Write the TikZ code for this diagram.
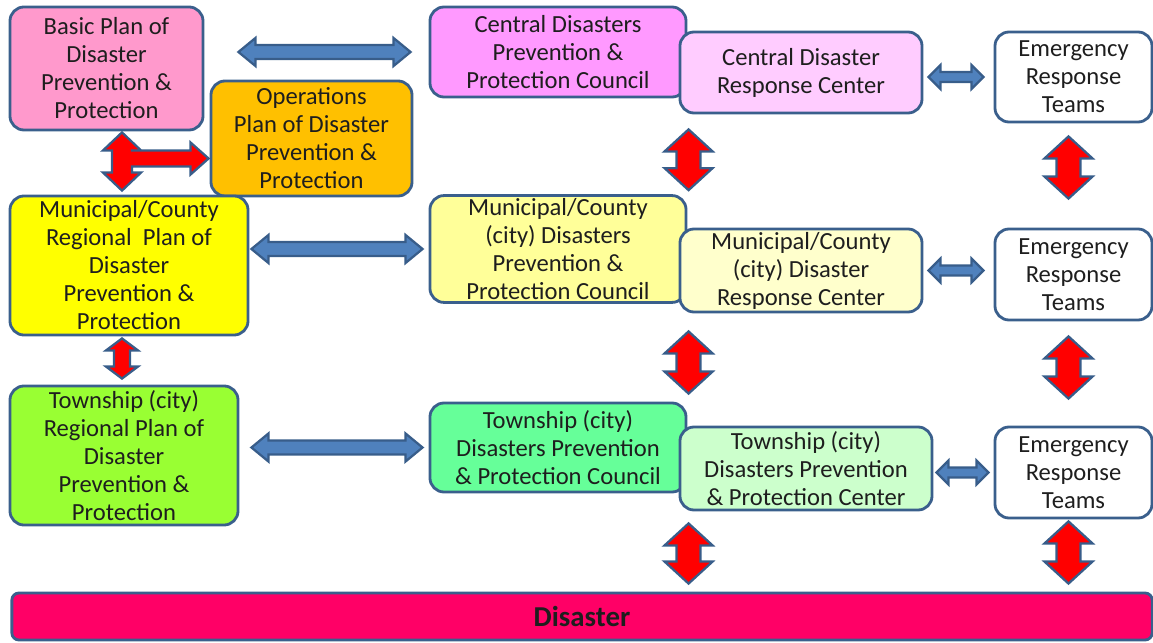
\documentclass[tikz,border=0pt]{standalone}
\usepackage{fontspec}
\setmainfont{Carlito}
\usetikzlibrary{calc}
\definecolor{boxline}{RGB}{58,95,140}
\definecolor{arrline}{RGB}{56,93,138}
\definecolor{arrblue}{RGB}{79,129,189}
\definecolor{textgray}{RGB}{30,30,30}
\definecolor{basicpink}{RGB}{255,153,204}
\definecolor{opsorange}{RGB}{255,192,0}
\definecolor{centralmag}{RGB}{255,153,255}
\definecolor{centrallight}{RGB}{255,204,255}
\definecolor{muniyellow}{RGB}{255,255,0}
\definecolor{munilight}{RGB}{255,255,153}
\definecolor{munipale}{RGB}{255,255,204}
\definecolor{townlime}{RGB}{153,255,51}
\definecolor{townmint}{RGB}{102,255,153}
\definecolor{townpale}{RGB}{204,255,204}
\definecolor{disasterred}{RGB}{255,0,102}
\tikzset{
  box/.style={draw=boxline, line width=2pt, rounded corners=10pt, align=center, inner sep=2pt,
    text=textgray, font=\fontsize{17.5}{19.9}\selectfont},
  bluearr/.style={draw=arrline, fill=arrblue, line width=1.6pt},
  redarr/.style={draw=arrline, fill=red, line width=1.6pt}
}
\newcommand\harrow[6]{%
  \draw[#1] let \p1=(#2), \p2=(#3) in
    (\x1,\y1) -- ++(#6,-#4) -- ++(0,#4-#5) -- ($(\x2,\y1)+(-#6,-#5)$) -- ++(0,#5-#4)
    -- (\x2,\y1) -- ++(-#6,#4) -- ++(0,#5-#4) -- ($(\x1,\y1)+(#6,#5)$) -- ++(0,#4-#5) -- cycle;}
\newcommand\varrow[6]{%
  \draw[#1] let \p1=(#2), \p2=(#3) in
    (\x1,\y1) -- ++(#4,#6) -- ++(#5-#4,0) -- ($(\x1,\y2)+(#5,-#6)$) -- ++(#4-#5,0)
    -- (\x1,\y2) -- ++(-#4,-#6) -- ++(#4-#5,0) -- ($(\x1,\y1)+(-#5,#6)$) -- ++(#5-#4,0) -- cycle;}
\begin{document}
\begin{tikzpicture}[x=0.025cm, y=-0.025cm, line join=miter]
\useasboundingbox (0,0) rectangle (1153,643);

\node[box, fill=basicpink, minimum width=4.825cm, minimum height=3.075cm] (basic) at (106.5,68.5)
  {Basic Plan of\\Disaster\\Prevention \&\\Protection};
\node[box, fill=opsorange, minimum width=5.025cm, minimum height=2.875cm] (ops) at (311.5,138.5)
  {Operations\\Plan of Disaster\\Prevention \&\\Protection};
\node[box, fill=centralmag, minimum width=6.4cm, minimum height=2.25cm] (ccouncil) at (558,52)
  {Central Disasters\\Prevention \&\\Protection Council};
\node[box, fill=centrallight, minimum width=6.05cm, minimum height=2.025cm] (ccenter) at (801,72.5)
  {Central Disaster\\Response Center};
\node[box, fill=white, minimum width=3.925cm, minimum height=2.25cm] (ert1) at (1073.5,77)
  {Emergency\\Response\\Teams};

\node[box, fill=muniyellow, minimum width=5.95cm, minimum height=3.475cm] (mplan) at (129,265.5)
  {Municipal/County\\Regional~ Plan of\\Disaster\\Prevention \&\\Protection};
\node[box, fill=munilight, minimum width=6.4cm, minimum height=2.65cm] (mcouncil) at (558,249)
  {Municipal/County\\(city) Disasters\\Prevention \&\\Protection Council};
\node[box, fill=munipale, minimum width=6.05cm, minimum height=2.075cm] (mcenter) at (801,270.5)
  {Municipal/County\\(city) Disaster\\Response Center};
\node[box, fill=white, minimum width=3.925cm, minimum height=2.275cm] (ert2) at (1073.5,274.5)
  {Emergency\\Response\\Teams};

\node[box, fill=townlime, minimum width=5.7cm, minimum height=3.475cm] (tplan) at (124,455.5)
  {Township (city)\\Regional Plan of\\Disaster\\Prevention \&\\Protection};
\node[box, fill=townmint, minimum width=6.4cm, minimum height=2.225cm] (tcouncil) at (558,447.5)
  {Township (city)\\Disasters Prevention\\\& Protection Council};
\node[box, fill=townpale, minimum width=6.3cm, minimum height=2.075cm] (tcenter) at (806,468.5)
  {Township (city)\\Disasters Prevention\\\& Protection Center};
\node[box, fill=white, minimum width=3.925cm, minimum height=2.275cm] (ert3) at (1073.5,472.5)
  {Emergency\\Response\\Teams};

\node[box, fill=disasterred, rounded corners=5pt, minimum width=28.5cm, minimum height=1.175cm,
  font=\fontsize{20.5}{23}\selectfont\bfseries] (disaster) at (582,616.5) {Disaster};

\harrow{bluearr}{$(basic.east |- ccouncil.west)+(34,0)$}{$(ccouncil.west)+(-18,0)$}{14}{7}{17}
\harrow{bluearr}{$(mplan.east |- mcouncil.west)+(2,0)$}{$(mcouncil.west)+(-6,0)$}{14}{7}{17}
\harrow{bluearr}{$(tplan.east |- tcouncil.west)+(12,0)$}{$(tcouncil.west)+(-6,0)$}{14}{7}{17}
\harrow{bluearr}{$(ccenter.east |- ert1.west)+(5,0)$}{$(ert1.west)+(-10,0)$}{12}{5}{12}
\harrow{bluearr}{$(mcenter.east)+(5,0)$}{$(mcenter.east -| ert2.west)+(-10,0)$}{12}{5}{12}
\harrow{bluearr}{$(tcenter.east |- ert3.west)+(3,0)$}{$(ert3.west)+(-5,0)$}{12}{5}{12}

\varrow{redarr}{$(ccenter.south west)+(10,15)$}{$(ccenter.south west |- mcouncil.north)+(10,-4)$}{24}{12}{22}
\varrow{redarr}{$(ert1.south)+(-5,13)$}{$(ert1.south |- ert2.north)+(-5,-29)$}{24}{12}{22}
\varrow{redarr}{$(mcenter.south west)+(10,18)$}{$(mcenter.south west |- tcouncil.north)+(10,-8)$}{24}{12}{22}
\varrow{redarr}{$(ert2.south)+(-5,15)$}{$(ert2.south |- ert3.north)+(-5,-27)$}{24}{12}{22}
\varrow{redarr}{$(tcenter.south west)+(10,12)$}{$(tcenter.south west |- disaster.north)+(10,-8)$}{24}{12}{22}
\varrow{redarr}{$(ert3.south)+(-5,2)$}{$(ert3.south |- disaster.north)+(-5,-8)$}{24}{12}{22}
\varrow{redarr}{$(mplan.south)+(-7,2)$}{$(mplan.south |- tplan.north)+(-7,-6)$}{16}{8}{12}

\draw[redarr] let \p1=($(basic.south)+(15.5,1)$), \p2=($(basic.south |- mplan.north)+(15.5,-4)$),
    \p3=($(ops.west)+(-1,20)$) in
  (\x1,\y1) -- ++(19,18) -- ++(-9,0) -- ($(\x1,\y3)+(10,-8)$) -- ($(\x3,\y3)+(-18,-8)$) -- ++(0,-8)
  -- (\x3,\y3) -- ++(-18,16) -- ++(0,-8) -- ($(\x1,\y3)+(10,8)$) -- ($(\x1,\y2)+(10,-18)$) -- ++(9,0)
  -- (\x1,\y2) -- ++(-19,-18) -- ++(9,0) -- ($(\x1,\y1)+(-10,18)$) -- ++(-9,0) -- cycle;
\end{tikzpicture}
\end{document}
